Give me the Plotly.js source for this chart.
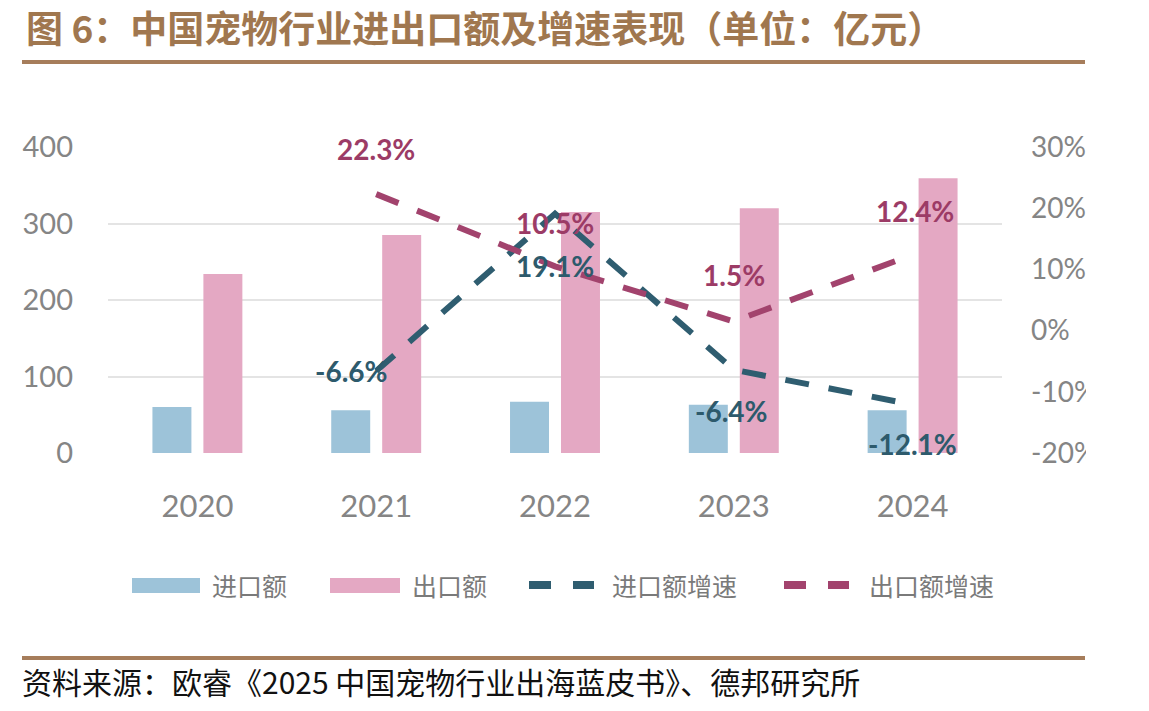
<!DOCTYPE html>
<html>
<head>
<meta charset="utf-8">
<script src="https://cdn.plot.ly/plotly-3.0.1.min.js"></script>
<style>
  html, body { margin: 0; padding: 0; background: #ffffff; }
  #wrap { position: relative; width: 1149px; height: 711px; overflow: hidden; }
  #chart { width: 1149px; height: 711px; }
  #clip { position: absolute; left: 1086px; top: 120px; width: 63px; height: 360px; background: #ffffff; }
</style>
</head>
<body>
<div id="wrap">
<div id="chart"></div>
<div id="clip"></div>
</div>
<script>
// ---------------- data ----------------
const years = ['2020', '2021', '2022', '2023', '2024'];
const importValue = [60, 56, 67, 63, 56];          // 进口额（亿元）
const exportValue = [234, 285, 315, 320, 359];     // 出口额（亿元）
const importGrowth = [null, -6.6, 19.1, -6.4, -12.1]; // 进口额增速 %
const exportGrowth = [null, 22.3, 10.5, 1.5, 12.4];   // 出口额增速 %
const seriesNames = ['进口额', '出口额', '进口额增速', '出口额增速'];
const leftTicks = [0, 100, 200, 300, 400];
const rightTicks = [-0.2, -0.1, 0, 0.1, 0.2, 0.3];
const rightTickText = ['-20%', '-10%', '0%', '10%', '20%', '30%'];
const titleText = '图 6：中国宠物行业进出口额及增速表现（单位：亿元）';
const sourceText = '资料来源：欧睿《2025 中国宠物行业出海蓝皮书》、德邦研究所';

// ---------------- styles ----------------
const C = {
  importBar: '#9dc3d9',
  exportBar: '#e4a8c3',
  importLine: '#2f5d70',
  exportLine: '#a2436d',
  importLabel: '#2d5a6c',
  exportLabel: '#9c3b66',
  axisText: '#858585',
  grid: '#e4e4e4',
  brown: '#a67d5b',
  titleColor: '#a0774f',
  legendText: '#7a7a7a'
};
const numFont = 'Lato, sans-serif';
const cjkFont = 'Noto Sans CJK SC, sans-serif';

const M = { l: 108, r: 147, t: 147, b: 258 };
const W = 1149 - M.l - M.r, H = 711 - M.t - M.b;
const X = px => (px - M.l) / W;
const Y = py => (711 - M.b - py) / H;

const pct = v => (v === null ? null : v / 100);

const traces = [
  { type: 'bar', name: seriesNames[0], x: years, y: importValue,
    marker: { color: C.importBar }, yaxis: 'y', hoverinfo: 'skip' },
  { type: 'bar', name: seriesNames[1], x: years, y: exportValue,
    marker: { color: C.exportBar }, yaxis: 'y', hoverinfo: 'skip' },
  { type: 'scatter', mode: 'lines', name: seriesNames[2], x: years, y: importGrowth.map(pct),
    yaxis: 'y2', line: { color: C.importLine, width: 6, dash: '24px,20px' }, connectgaps: false },
  { type: 'scatter', mode: 'lines', name: seriesNames[3], x: years, y: exportGrowth.map(pct),
    yaxis: 'y2', line: { color: C.exportLine, width: 6, dash: '24px,20px' }, connectgaps: false }
];

// data label offsets (pixels) – style only
const impShift = [null, [-25, 0], [0, -52], [-2, -41], [0, -39]];
const expShift = [null, [0, 45], [0, 43], [0, 46], [2, 44]];

const annotations = [];
const fmt = v => v.toFixed(1) + '%';
years.forEach((yr, i) => {
  if (exportGrowth[i] !== null) {
    annotations.push({ x: i, y: pct(exportGrowth[i]), xref: 'x', yref: 'y2',
      text: '<b>' + fmt(exportGrowth[i]) + '</b>', showarrow: false,
      xshift: expShift[i][0], yshift: expShift[i][1],
      font: { family: numFont, size: 28, color: C.exportLabel } });
  }
  if (importGrowth[i] !== null) {
    annotations.push({ x: i, y: pct(importGrowth[i]), xref: 'x', yref: 'y2',
      text: '<b>' + fmt(importGrowth[i]) + '</b>', showarrow: false,
      xshift: impShift[i][0], yshift: impShift[i][1],
      font: { family: numFont, size: 28, color: C.importLabel } });
  }
});

// title & source
annotations.push({ xref: 'paper', yref: 'paper', x: X(24), y: Y(27), xanchor: 'left', yanchor: 'middle',
  text: '<b>' + titleText + '</b>', showarrow: false,
  font: { family: cjkFont, size: 37, color: C.titleColor } });
annotations.push({ xref: 'paper', yref: 'paper', x: X(20), y: Y(681), xanchor: 'left', yanchor: 'middle',
  text: sourceText, showarrow: false,
  font: { family: cjkFont, size: 30, color: '#111111' } });

// manual legend
const legendY = 585;
const legendItems = [
  { kind: 'box', color: C.importBar, x0: 132, x1: 200, tx: 210, label: seriesNames[0] },
  { kind: 'box', color: C.exportBar, x0: 330, x1: 400, tx: 410, label: seriesNames[1] },
  { kind: 'dash', color: C.importLine, segs: [[529, 551], [573, 594]], tx: 610, label: seriesNames[2] },
  { kind: 'dash', color: C.exportLine, segs: [[784, 806], [828, 849]], tx: 867, label: seriesNames[3] }
];
const shapes = [
  { type: 'line', xref: 'paper', yref: 'paper', x0: X(22), x1: X(1085), y0: Y(62), y1: Y(62),
    line: { color: C.brown, width: 4 } },
  { type: 'line', xref: 'paper', yref: 'paper', x0: X(22), x1: X(1085), y0: Y(658), y1: Y(658),
    line: { color: C.brown, width: 4 } }
];
legendItems.forEach(it => {
  if (it.kind === 'box') {
    shapes.push({ type: 'rect', xref: 'paper', yref: 'paper', x0: X(it.x0), x1: X(it.x1),
      y0: Y(legendY + 8), y1: Y(legendY - 7), fillcolor: it.color, line: { width: 0 } });
  } else {
    it.segs.forEach(s => shapes.push({ type: 'line', xref: 'paper', yref: 'paper',
      x0: X(s[0]), x1: X(s[1]), y0: Y(legendY), y1: Y(legendY), line: { color: it.color, width: 8 } }));
  }
  annotations.push({ xref: 'paper', yref: 'paper', x: X(it.tx), y: Y(legendY), xanchor: 'left', yanchor: 'middle',
    text: it.label, showarrow: false, font: { family: cjkFont, size: 25, color: C.legendText } });
});

const layout = {
  width: 1149, height: 711,
  margin: M,
  paper_bgcolor: '#ffffff', plot_bgcolor: '#ffffff',
  showlegend: false,
  barmode: 'group', bargap: 0.43, bargroupgap: 0.235,
  xaxis: {
    type: 'category', range: [-0.5, 4.5], showgrid: false, zeroline: false,
    showline: false, ticks: '', ticklabelstandoff: 32,
    tickfont: { family: numFont, size: 31, color: C.axisText }
  },
  yaxis: {
    range: [0, 400], tickvals: leftTicks, showgrid: true, gridcolor: C.grid, gridwidth: 2,
    zeroline: false, showline: false, ticks: '', ticklabelstandoff: 34,
    tickfont: { family: numFont, size: 29, color: C.axisText }
  },
  yaxis2: {
    overlaying: 'y', side: 'right', range: [-0.2, 0.3], tickvals: rightTicks, ticktext: rightTickText,
    showgrid: false, zeroline: false, showline: false, ticks: '', ticklabelstandoff: 28,
    tickfont: { family: numFont, size: 28, color: C.axisText }
  },
  shapes: shapes,
  annotations: annotations
};

Plotly.newPlot('chart', traces, layout, { displayModeBar: false, staticPlot: true });
</script>
</body>
</html>
